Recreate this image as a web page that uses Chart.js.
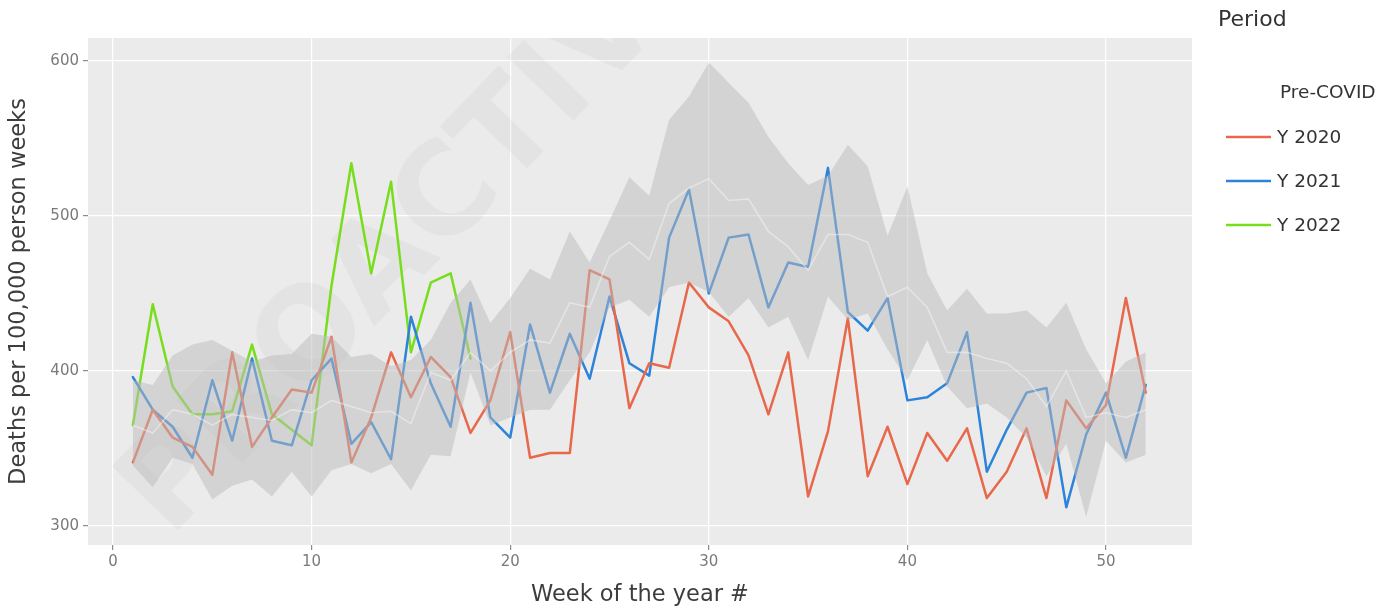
<!DOCTYPE html>
<html>
<head>
<meta charset="utf-8">
<script src="https://cdn.jsdelivr.net/npm/chart.js@4.4.1/dist/chart.umd.min.js"></script>
<style>
  html, body { margin: 0; padding: 0; background: #ffffff; }
  #wrap { width: 1392px; height: 609px; position: relative; }
</style>
</head>
<body>
<div id="wrap"><canvas id="c" width="1392" height="609"></canvas></div>
<script>
// Week numbers on the x axis
const weeks = Array.from({ length: 52 }, (_, i) => i + 1);

// Weekly death rates (deaths per 100,000 person weeks)
const y2020 = [341, 375, 357, 351, 333, 412, 351, 370, 388, 386, 422, 341, 370, 412, 383, 409, 396, 360, 381, 425,
               344, 347, 347, 465, 459, 376, 405, 402, 457, 441, 432, 410, 372, 412, 319, 361, 434, 332, 364, 327,
               360, 342, 363, 318, 335, 363, 318, 381, 363, 378, 447, 386];
const y2021 = [396, 375, 364, 344, 394, 355, 408, 355, 352, 394, 408, 353, 367, 343, 435, 392, 364, 444, 370, 357,
               430, 386, 424, 395, 448, 405, 397, 486, 517, 450, 486, 488, 441, 470, 467, 531, 438, 426, 447, 381,
               383, 392, 425, 335, 362, 386, 389, 312, 359, 386, 344, 391];
const y2022 = [365, 443, 390, 372, 372, 374, 417, 372, 362, 352, 455, 534, 463, 522, 412, 457, 463, 408];

// Pre-COVID reference range (min / max) and its mean
const preUpper = [394, 391, 410, 417, 420, 413, 406, 410, 411, 424, 422, 409, 411, 403, 407, 420, 444, 459, 431, 447,
                  466, 459, 490, 470, 497, 525, 513, 562, 577, 599, 586, 573, 551, 534, 520, 526, 546, 532, 487, 519,
                  463, 439, 453, 437, 437, 439, 428, 444, 414, 392, 406, 412];
const preLower = [339, 325, 344, 340, 317, 326, 330, 319, 335, 319, 336, 340, 334, 340, 323, 346, 345, 399, 365, 370,
                  375, 375, 394, 412, 441, 446, 435, 454, 457, 451, 435, 447, 428, 435, 407, 448, 433, 437, 414, 394,
                  420, 390, 376, 379, 370, 357, 332, 353, 306, 355, 341, 346];
const preMean  = [365, 360, 375, 372, 365, 372, 370, 368, 375, 373, 381, 377, 373, 374, 366, 399, 394, 412, 400, 412,
                  420, 418, 444, 441, 474, 483, 472, 508, 518, 524, 510, 511, 490, 480, 465, 488, 488, 483, 448, 454,
                  441, 412, 412, 408, 405, 395, 377, 400, 370, 373, 370, 375];

// Axis tick values
const xTicks = [0, 10, 20, 30, 40, 50];
const yTicks = [300, 400, 500, 600];

const FONT = '"DejaVu Sans", Verdana, sans-serif';
const toPoints = arr => arr.map((v, i) => ({ x: weeks[i], y: v }));

// Faint diagonal watermark behind the data
const watermark = {
  id: 'watermark',
  beforeDatasetsDraw(chart) {
    const { ctx, chartArea: a } = chart;
    ctx.save();
    ctx.beginPath();
    ctx.rect(a.left, a.top, a.right - a.left, a.bottom - a.top);
    ctx.clip();
    ctx.translate(424, 228);
    ctx.rotate(-46 * Math.PI / 180);
    ctx.font = 'bold 126px ' + FONT;
    ctx.fillStyle = 'rgba(120,120,120,0.065)';
    ctx.textAlign = 'center';
    ctx.textBaseline = 'middle';
    ctx.fillText('PROACTIVE', 0, 0);
    ctx.restore();
  }
};

// Legend on the right: title, the reference group, then one line per year
const sideLegend = {
  id: 'sideLegend',
  afterDraw(chart) {
    const { ctx } = chart;
    ctx.save();
    ctx.textBaseline = 'middle';
    ctx.textAlign = 'left';
    ctx.fillStyle = '#333333';
    ctx.font = '22px ' + FONT;
    ctx.fillText('Period', 1218, 20);
    ctx.font = '18.5px ' + FONT;
    ctx.fillText('Pre-COVID', 1280, 93);
    const lines = chart.data.datasets.filter(d => d.inLegend);
    lines.forEach((d, i) => {
      const y = 137 + i * 44;
      ctx.strokeStyle = d.borderColor;
      ctx.lineWidth = 2.5;
      ctx.beginPath();
      ctx.moveTo(1226, y);
      ctx.lineTo(1271, y);
      ctx.stroke();
      ctx.fillStyle = '#333333';
      ctx.fillText(d.label, 1277, y + 1);
    });
    ctx.restore();
  }
};

const lineStyle = color => ({
  borderColor: color,
  backgroundColor: color,
  borderWidth: 2.5,
  pointRadius: 0,
  tension: 0,
  fill: false,
  borderJoinStyle: 'round',
  borderCapStyle: 'round',
  order: 1,
  inLegend: true
});

new Chart(document.getElementById('c'), {
  type: 'line',
  data: {
    datasets: [
      { label: 'Pre-COVID mean', data: toPoints(preMean), borderColor: 'rgba(246,246,246,0.5)', borderWidth: 1.6,
        pointRadius: 0, tension: 0, fill: false, order: 0 },
      { label: 'Pre-COVID min', data: toPoints(preLower), borderColor: 'rgba(0,0,0,0)', borderWidth: 0,
        pointRadius: 0, tension: 0, fill: false, order: 0 },
      { label: 'Pre-COVID max', data: toPoints(preUpper), borderColor: 'rgba(0,0,0,0)', borderWidth: 0,
        backgroundColor: 'rgba(188,188,188,0.5)', pointRadius: 0, tension: 0, fill: '-1', order: 0 },
      { label: 'Y 2020', data: toPoints(y2020), ...lineStyle('#E8684B') },
      { label: 'Y 2021', data: toPoints(y2021), ...lineStyle('#2C83DA') },
      { label: 'Y 2022', data: toPoints(y2022), ...lineStyle('#78DE1C') }
    ]
  },
  options: {
    responsive: false,
    animation: false,
    devicePixelRatio: 1,
    layout: { padding: { left: 0, top: 38, right: 200, bottom: 0 } },
    plugins: {
      legend: { display: false },
      tooltip: { enabled: false },
      filler: { drawTime: 'beforeDatasetDraw' }
    },
    scales: {
      x: {
        type: 'linear',
        min: -1.26,
        max: 54.33,
        afterBuildTicks: s => { s.ticks = xTicks.map(v => ({ value: v })); },
        afterFit: s => { s.height = 64; },
        grid: { color: '#ffffff', lineWidth: 1.2, tickColor: '#8c8c8c', tickLength: 5, drawTicks: true },
        border: { display: false },
        ticks: { color: '#7a7a7a', font: { family: FONT, size: 15 }, padding: 3, maxRotation: 0 },
        title: { display: true, text: 'Week of the year #', color: '#3d3d3d',
                 font: { family: FONT, size: 22.5 }, padding: { top: 0, bottom: 0 } }
      },
      y: {
        type: 'linear',
        min: 287.7,
        max: 614.8,
        afterBuildTicks: s => { s.ticks = yTicks.map(v => ({ value: v })); },
        afterFit: s => { s.width = 88; },
        grid: { color: '#ffffff', lineWidth: 1.2, tickColor: '#8c8c8c', tickLength: 5, drawTicks: true },
        border: { display: false },
        ticks: { color: '#7a7a7a', font: { family: FONT, size: 15 }, padding: 4 },
        title: { display: true, text: 'Deaths per 100,000 person weeks', color: '#3d3d3d',
                 font: { family: FONT, size: 22.5 }, padding: { top: 6, bottom: 0 } }
      }
    }
  },
  plugins: [
    {
      id: 'panelBg',
      beforeDraw(chart) {
        const { ctx, chartArea: a } = chart;
        ctx.save();
        ctx.fillStyle = '#EBEBEB';
        ctx.fillRect(a.left, a.top, a.right - a.left, a.bottom - a.top);
        ctx.restore();
      }
    },
    watermark,
    sideLegend
  ]
});
</script>
</body>
</html>
